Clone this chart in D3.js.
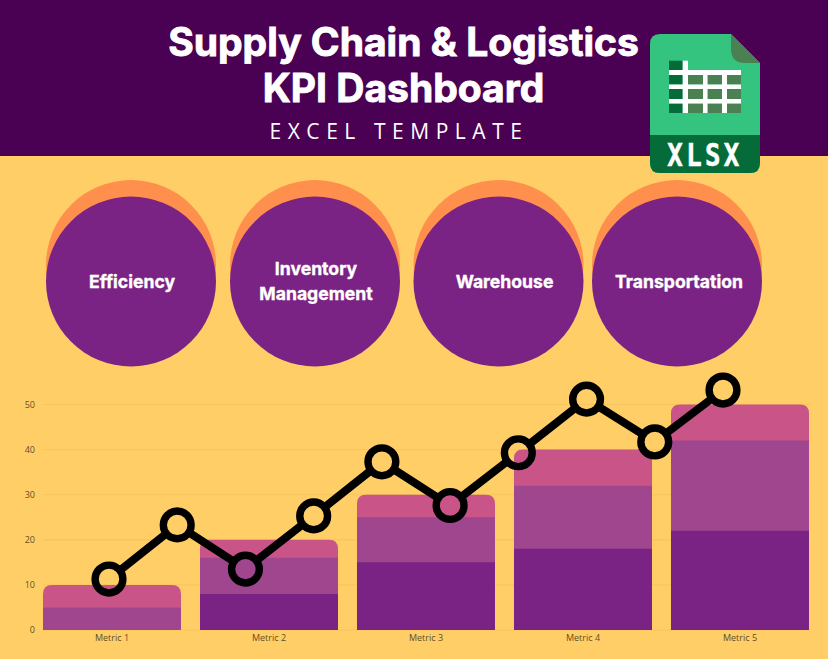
<!DOCTYPE html>
<html><head><meta charset="utf-8">
<script src="https://cdn.jsdelivr.net/npm/d3@7"></script>
<style>html,body{margin:0;padding:0;background:#ffce66;overflow:hidden}svg{display:block}</style>
</head><body><svg id="c" width="828" height="659"></svg>
<script>
const categories = ["Metric 1","Metric 2","Metric 3","Metric 4","Metric 5"];
const seriesBottom = [0,8,15,18,22];
const seriesMiddle = [5,8,10,14,20];
const seriesTop = [5,4,5,8,8];
const lineValues = [11.3,23.3,13.5,25.3,37.3,27.6,39.3,51.2,41.7,53.2];
const yTicks = [0,10,20,30,40,50];
const kpiLabels = [["Efficiency"],["Inventory","Management"],["Warehouse"],["Transportation"]];

const svg = d3.select("#c");
const W=828,H=659;
svg.append("rect").attr("width",W).attr("height",H).attr("fill","#ffce66");
svg.append("rect").attr("width",W).attr("height",156).attr("fill","#4a0053");

const T = svg.append("g").attr("text-anchor","middle").attr("fill","#fff").attr("font-family","Inter");
T.append("text").attr("x",403.5).attr("y",56).attr("font-size",39).attr("font-weight",700)
  .attr("stroke","#fff").attr("stroke-width",0.9).text("Supply Chain & Logistics");
T.append("text").attr("x",403.5).attr("y",102).attr("font-size",39).attr("font-weight",700)
  .attr("stroke","#fff").attr("stroke-width",0.9).text("KPI Dashboard");
T.append("text").attr("x",399).attr("y",139).attr("font-size",21).attr("font-weight",400)
  .attr("font-family","Open Sans").attr("letter-spacing",6.55).text("EXCEL TEMPLATE");

// file icon
const ic = svg.append("g");
ic.append("path").attr("fill","#34c47f").attr("d","M660 34H731L760 63V163Q760 173 750 173H660Q650 173 650 163V44Q650 34 660 34Z");
ic.append("path").attr("fill","#056b38").attr("d","M650 135H760V163Q760 173 750 173H660Q650 173 650 163Z");
ic.append("path").attr("fill","#4a8052").attr("d","M731 34L760 63H745Q731 63 731 49Z");
const cols=[[669,682.7],[688,703],[707.5,722],[727,741]], rows=[[60.7,70],[75,84.5],[89,99],[103.5,113]];
rows.forEach((r,ri)=>cols.forEach((c,ci)=>{
  if(ri===0&&ci>0) return;
  ic.append("rect").attr("x",c[0]).attr("y",r[0]).attr("width",c[1]-c[0]).attr("height",r[1]-r[0]).attr("fill",ci===0?"#056b38":"#4a8052");
}));
[[669,70,72,5],[669,84.5,72,4.5],[669,99,72,4.5],[682.7,60.7,5.3,52.3],[703,70,4.5,43],[722,70,5,43]].forEach(d=>
  ic.append("rect").attr("x",d[0]).attr("y",d[1]).attr("width",d[2]).attr("height",d[3]).attr("fill","#fff"));
ic.append("text").attr("transform","translate(705,166) scale(0.92,1.12)").attr("text-anchor","middle").attr("fill","#fff")
  .attr("stroke","#fff").attr("stroke-width",0.5)
  .attr("font-family","DejaVu Sans Mono").attr("font-weight",700).attr("font-size",28).attr("letter-spacing",3.6).text("XLSX");

// KPI circles
const kx = d3.scaleOrdinal().domain(kpiLabels.map(d=>d[0])).range([131,315,498.5,677]);
const labelOffset = [1,1,6,2];
const k = svg.selectAll("g.kpi").data(kpiLabels).join("g").attr("class","kpi")
  .attr("transform",d=>`translate(${kx(d[0])},0)`);
k.append("circle").attr("cy",265).attr("r",85).attr("fill","#ff8f4d");
k.append("circle").attr("cy",281.5).attr("r",85).attr("fill","#7b2385");
k.each(function(d,i){
  const g=d3.select(this);
  const ys = d.length===1?[288]:[275,300];
  d.forEach((s,j)=>g.append("text").attr("x",labelOffset[i]).attr("y",ys[j]).attr("text-anchor","middle")
    .attr("fill","#fff").attr("stroke","#fff").attr("stroke-width",0.35)
    .attr("font-family","Inter").attr("font-weight",700).attr("font-size",17.6).text(s));
});

// chart
const y = d3.scaleLinear().domain([0,50]).range([630,404.5]);
const x = d3.scaleBand().domain(categories).range([33.5,818.5]).paddingInner(0.121).paddingOuter(0.0605);
const xl = d3.scalePoint().domain(d3.range(lineValues.length)).range([109,723]);

const gridG = svg.append("g");
gridG.selectAll("line").data(yTicks).join("line").attr("x1",43).attr("x2",810)
  .attr("y1",d=>y(d)).attr("y2",d=>y(d)).attr("stroke","#f6c45c").attr("stroke-width",1);

const axisL = d3.axisLeft(y).tickValues(yTicks).tickSize(0).tickPadding(0);
const ag = svg.append("g").attr("transform","translate(35,0)").call(axisL);
ag.select(".domain").remove();
ag.selectAll("text").attr("font-family","Open Sans").attr("font-size",9).attr("fill","#5f4f28");

const axisB = d3.axisBottom(x).tickSize(0).tickPadding(5);
const bg = svg.append("g").attr("transform","translate(0,630)").call(axisB);
bg.select(".domain").remove();
bg.selectAll("text").attr("font-family","Open Sans").attr("font-size",9).attr("fill","#5f4f28");

const stacked = categories.map((c,i)=>({c,b:seriesBottom[i],m:seriesMiddle[i],t:seriesTop[i]}));
const bars = svg.append("g").selectAll("g").data(stacked).join("g");
const R=9;
function seg(c,hi,rounded){
  const x0=x(c),x1=x0+x.bandwidth(),y0=y(0),y1=y(hi);
  if(rounded) return `M${x0} ${y0}V${y1+R}Q${x0} ${y1} ${x0+R} ${y1}H${x1-R}Q${x1} ${y1} ${x1} ${y1+R}V${y0}Z`;
  return `M${x0} ${y0}V${y1}H${x1}V${y0}Z`;
}
// painted back to front so neighbouring bands share one clean edge
bars.append("path").attr("fill","#c85488").attr("d",d=>seg(d.c,d.b+d.m+d.t,true));
bars.append("path").attr("fill","#9f468f").attr("d",d=>seg(d.c,d.b+d.m,false));
bars.filter(d=>d.b>0).append("path").attr("fill","#7b2385").attr("d",d=>seg(d.c,d.b,false));

// line: hollow markers, the line stops at each ring
const defs = svg.append("defs");
const mask = defs.append("mask").attr("id","holes").attr("maskUnits","userSpaceOnUse")
  .attr("x",0).attr("y",0).attr("width",W).attr("height",H);
mask.append("rect").attr("width",W).attr("height",H).attr("fill","#fff");
mask.selectAll("circle").data(lineValues).join("circle")
  .attr("cx",(d,i)=>xl(i)).attr("cy",d=>y(d)).attr("r",13.5).attr("fill","#000");
const line = d3.line().x((d,i)=>xl(i)).y(d=>y(d));
svg.append("path").attr("d",line(lineValues)).attr("fill","none").attr("stroke","#000")
  .attr("stroke-width",8).attr("mask","url(#holes)");
svg.append("g").selectAll("circle").data(lineValues).join("circle")
  .attr("cx",(d,i)=>xl(i)).attr("cy",d=>y(d)).attr("r",13.9).attr("fill","none")
  .attr("stroke","#000").attr("stroke-width",7.4);
</script></body></html>
